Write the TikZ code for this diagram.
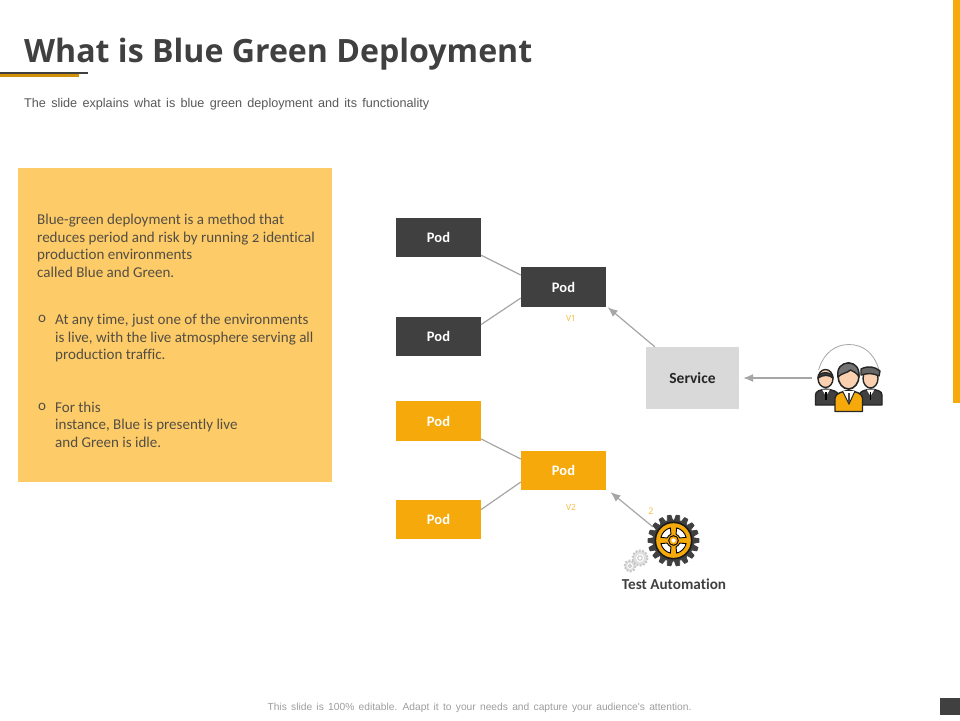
\documentclass[tikz,border=0pt]{standalone}
\usepackage{fontspec}
\setmainfont{Open Sans}
\newfontfamily\arialf[WordSpace=1.5]{Liberation Sans}
\newfontfamily\corb[Numbers=OldStyle,Ligatures=NoCommon]{Carlito}
\usetikzlibrary{arrows.meta}
\definecolor{darkg}{HTML}{404040}
\definecolor{amber}{HTML}{F5A90A}
\definecolor{panel}{HTML}{FDCB67}
\definecolor{svc}{HTML}{D9D9D9}
\definecolor{linec}{HTML}{A6A6A6}
\definecolor{skin}{HTML}{FBD0B0}
\tikzset{
 podbase/.style={minimum width=85pt,minimum height=39pt,inner sep=0pt,font=\corb\fontsize{14.5}{16}\selectfont\bfseries,text=white},
 poddark/.style={podbase,fill=darkg},
 podamber/.style={podbase,fill=amber},
 link/.style={draw=linec,line width=1.2pt},
 arr/.style={draw=linec,line width=1.2pt,-{Latex[length=10pt,width=8pt]}},
 bodytext/.style={anchor=north west,align=left,inner sep=0pt,text=darkg!90!panel,font=\corb\fontsize{15.03}{17.6}\selectfont},
 ver/.style={font=\fontsize{8.5}{10}\selectfont,text=amber!80!white,inner sep=0pt},
 icon/.style={draw=black!85,line width=1.4pt,line join=round},
}
\newcommand{\gearshape}[4]{% cx cy outer inner
 \foreach \i in {0,...,17}{
  \pgfmathsetmacro{\a}{\i*20}
  \ifnum\i=0 \xdef\gearpath{}\fi
  \xdef\gearpath{\gearpath ({#1+#3*cos(\a-4)},{#2+#3*sin(\a-4)}) -- ({#1+#3*cos(\a+4)},{#2+#3*sin(\a+4)}) -- ({#1+#4*cos(\a+7.5)},{#2+#4*sin(\a+7.5)}) -- ({#1+#4*cos(\a+12.5)},{#2+#4*sin(\a+12.5)}) -- }
 }
}
\begin{document}
\begin{tikzpicture}[x=1pt,y=-1pt]
\useasboundingbox (0,0) rectangle (960,720);
\fill[white] (0,0) rectangle (960,720);
% header
\fill[amber] (953,0) rectangle (960,403);
\fill[amber!85!black] (0,72.5) rectangle (79,76.5);
\fill[darkg] (0,72) rectangle (88,73.8);
\node[anchor=base west,inner sep=0pt,text=darkg,font=\fontsize{32.1}{36}\selectfont\bfseries] (title) at (24,62) {What is Blue Green Deployment};
\node[anchor=base west,inner sep=0pt,text=black!65,font=\arialf\fontsize{12.65}{14}\selectfont] (sub) at (24,107) {The slide explains what is blue green deployment and its functionality};
% panel
\fill[panel] (18,168) rectangle (332,482);
\node[bodytext] (t1) at (37,214) {Blue-green deployment is a method that\\reduces period and risk by running 2 identical\\production environments\\called Blue and Green.};
\node[bodytext] (b1) at (38,315.5) {o};
\node[bodytext] (t2) at (55,314) {At any time, just one of the environments\\is live, with the live atmosphere serving all\\production traffic.};
\node[bodytext] (b2) at (38,403.5) {o};
\node[bodytext] (t3) at (55,401.5) {For this\\instance, Blue is presently live\\and Green is idle.};
% pods
\node[poddark] (p1) at (438.5,237.5) {Pod};
\node[poddark] (p2) at (438.5,336.5) {Pod};
\node[poddark,minimum height=40pt] (pv1) at (563.5,287) {Pod};
\node[podamber,minimum height=40pt] (p3) at (438.5,421) {Pod};
\node[podamber] (p4) at (438.5,519.5) {Pod};
\node[podamber] (pv2) at (563.5,470.5) {Pod};
\node[ver] (v1) at (571,318) {V1};
\node[ver] (v2) at (571,507) {V2};
\node[ver,font=\fontsize{9}{10}\selectfont] (n2) at (651,511) {2};
\node[minimum width=93pt,minimum height=62pt,inner sep=0pt,fill=svc,text=black!85,font=\corb\fontsize{15.5}{16}\selectfont\bfseries] (svc) at (692.5,378) {Service};
\draw[link] ([yshift=2pt]p1.south east) -- ([yshift=12pt]pv1.west);
\draw[link] ([yshift=12pt]p2.east) -- ([yshift=-11pt]pv1.west);
\draw[link] ([yshift=-18pt]p3.east) -- ([yshift=11.5pt]pv2.west);
\draw[link] ([yshift=10pt]p4.east) -- ([yshift=-11.5pt]pv2.west);
\coordinate (gearc) at (673.5,540.5);
\coordinate (peoplec) at (812,378);
\draw[arr] ([xshift=9pt]svc.north west) -- ([xshift=1.5pt]pv1.south east);
\draw[arr,shorten >=4pt] (peoplec) -- (svc.east);
\coordinate (geartop) at (653,527);
\draw[arr,shorten >=3pt] (geartop) -- ([xshift=2pt]pv2.south east);
% gear
\gearshape{673.5}{540.5}{25.5}{20.5}
\filldraw[draw=darkg,line width=.8pt,line join=round,fill=darkg] \gearpath cycle;
\fill[black!90] (gearc) circle (19);
\fill[amber] (gearc) circle (17.3);
\begin{scope}[shift={(gearc)}]
\foreach \q in {0,90,180,270}{
 \filldraw[fill=white,draw=black,line width=.9pt,line join=round]
  (\q+14:13) arc[start angle=\q+14,end angle=\q+76,radius=13] -- (\q+68:6.8) arc[start angle=\q+68,end angle=\q+22,radius=6.8] -- cycle;
}
\end{scope}
\fill[black] (gearc) circle (5.3);
\fill[amber] (gearc) circle (4.2);
\fill[white] (gearc) circle (2.2);
% small grey gears
\foreach \c/\rr in {{(640,558)}/7.5,{(630,566)}/5.5}{
 \fill[black!12] \c circle (\rr);
 \draw[black!22,line width=2pt,dash pattern=on 1.8pt off 1.6pt] \c circle (\rr);
 \fill[white] \c circle (\rr*.55);
 \draw[black!22,line width=1pt] \c circle (\rr*.3);
}
\node[anchor=base,inner sep=0pt,text=darkg,font=\corb\fontsize{15.2}{16}\selectfont\bfseries] (ta) at (674,589) {Test Automation};
% people
\draw[linec,line width=.8pt] (818.5,370) .. controls (824,352) and (836,344.5) .. (849,344.5) .. controls (862,344.5) and (874,352) .. (879,370);
% left person
\filldraw[icon,fill=darkg] (815.5,405) -- (815.5,395) .. controls (815.5,391) and (820,390) .. (826,389) .. controls (832,390) and (838,391) .. (838,395) -- (838,405) -- cycle;
\fill[white] (822,389.5) -- (830,389.5) -- (826,396) -- cycle;
\draw[black,line width=1.8pt] (826,392) -- (826,400);
\filldraw[icon,fill=skin] (825.5,378.5) ellipse (7.5 and 9);
\filldraw[icon,fill=darkg] (818,378) .. controls (817.5,371) and (833,371) .. (833,378) .. controls (829,374.5) and (823,374.5) .. cycle;
% right person
\filldraw[icon,fill=darkg] (859,405) -- (859,395) .. controls (860,391) and (865,390) .. (871,389) .. controls (877,390) and (882,391) .. (882,395) -- (882,405) -- cycle;
\fill[white] (866.5,389.5) -- (874.5,389.5) -- (870.5,396) -- cycle;
\draw[black,line width=1.8pt] (870.5,392) -- (870.5,400);
\filldraw[icon,fill=skin] (870.5,378.5) ellipse (7.5 and 9.5);
\filldraw[icon,fill=black!60] (861,375) -- (861,369) .. controls (868,365.5) and (875,366.5) .. (880,371) -- (879,376) .. controls (873,373) and (868,373) .. cycle;
% centre person
\filldraw[icon,fill=amber] (835,411.5) -- (835,398) .. controls (835.5,393) and (842,392) .. (849,390) .. controls (856,392) and (862,393) .. (862.5,398) -- (862.5,411.5) -- cycle;
\fill[white] (842.5,391) -- (855,391) -- (849,404) -- cycle;
\draw[black!85,line width=1pt] (842.5,391) -- (849,404) -- (855,391);
\draw[black!70,line width=2pt] (849,393) -- (849,402);
\filldraw[icon,line width=1.6pt,fill=skin] (848.5,376) ellipse (10.5 and 13);
\filldraw[icon,fill=black!55] (838,377) .. controls (836.5,368) and (841.5,363) .. (848.5,363) .. controls (855.5,363) and (859.5,368) .. (859,377) .. controls (856.5,372) and (853.5,372) .. (850.5,370) .. controls (847.5,373) and (841.5,373) .. cycle;
% footer
\node[anchor=base,inner sep=0pt,text=black!38,font=\arialf\fontsize{10.25}{12}\selectfont] (foot) at (479.5,710) {This slide is 100\% editable. Adapt it to your needs and capture your audience's attention.};
\fill[darkg] (940,698) rectangle (960,715);
\end{tikzpicture}
\end{document}
